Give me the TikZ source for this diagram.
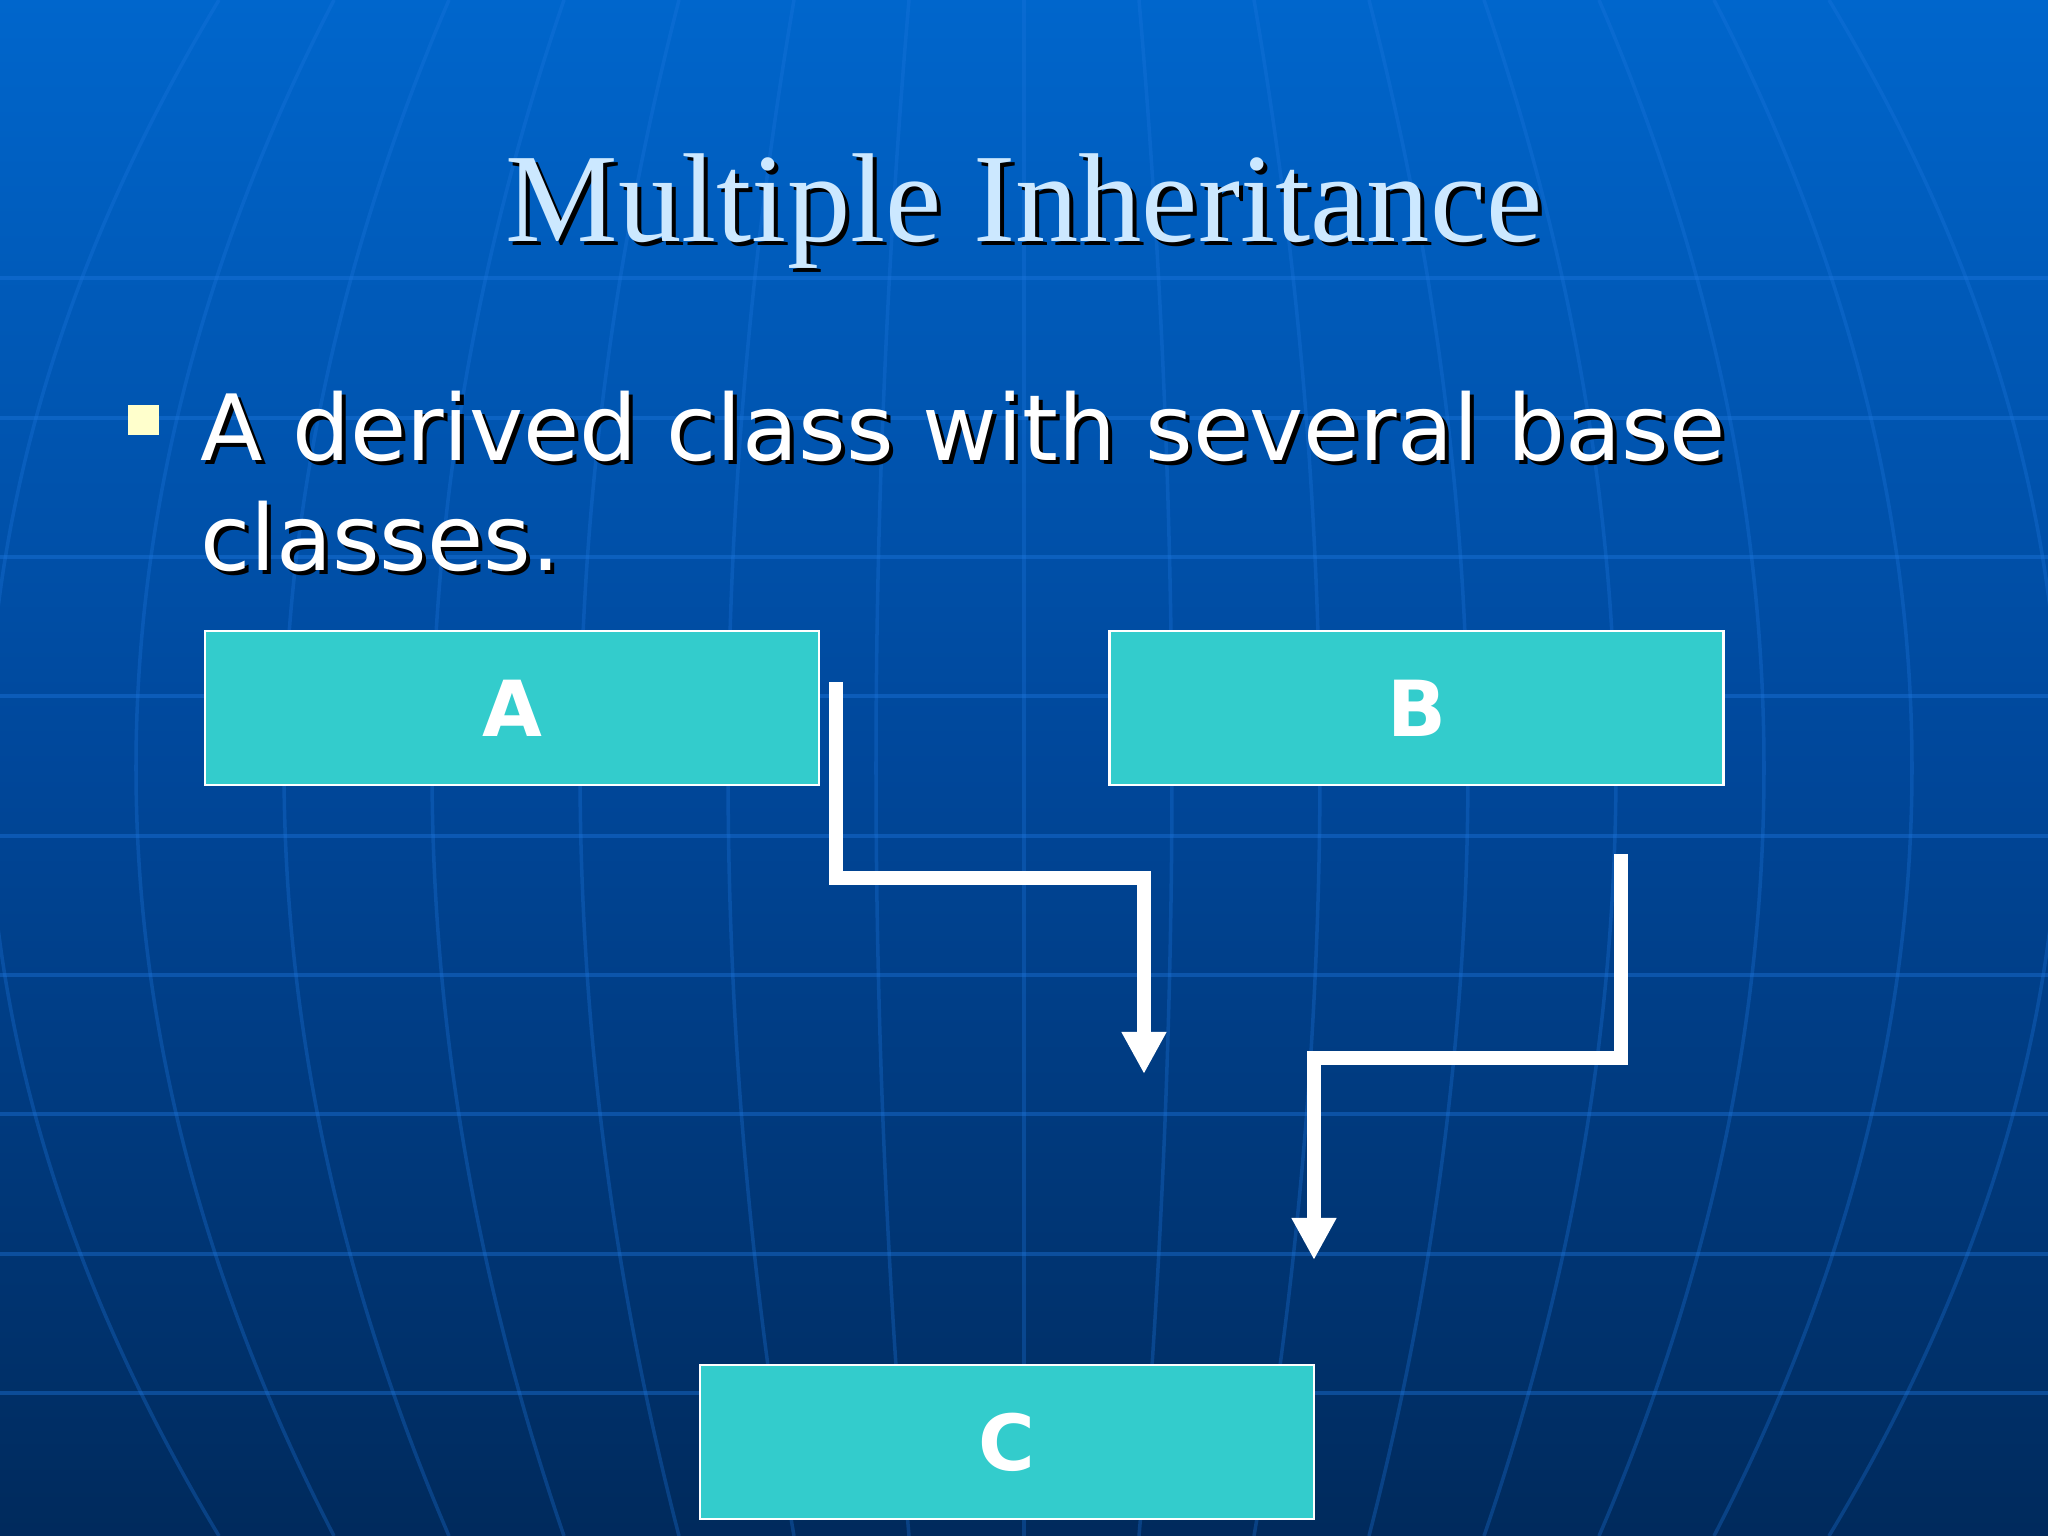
\documentclass[tikz,border=0pt]{standalone}
\usepackage{fontspec}
\setmainfont{Liberation Serif}
\setsansfont{DejaVu Sans}
\usetikzlibrary{arrows.meta}
\definecolor{bgtop}{HTML}{0066CC}
\definecolor{bgmid}{HTML}{00479A}
\definecolor{bgbot}{HTML}{002A5C}
\definecolor{gridblue}{HTML}{1F78E0}
\definecolor{boxfill}{HTML}{33CCCC}
\definecolor{titleblue}{HTML}{CCE8FF}
\definecolor{bulletyel}{HTML}{FFFFCC}
\begin{document}
\begin{tikzpicture}[
  classbox/.style={draw=white, line width=0.8pt, fill=boxfill, minimum width=6.14cm,
    minimum height=1.54cm, inner sep=0pt, text=white,
    font=\sffamily\bfseries\fontsize{22}{26}\selectfont},
  inherit/.style={draw=white, line width=0.14cm, line join=miter,
    -{Triangle[width=0.42cm,length=0.42cm]}},
  gridline/.style={gridblue, line width=1.2pt, opacity=0.4},
  meridian/.style={gridblue, line width=1pt, opacity=0.3},
  titlefont/.style={font=\fontsize{36}{40}\selectfont, anchor=base, inner sep=0pt},
  bulletfont/.style={font=\sffamily\fontsize{26}{31}\selectfont, anchor=base west, inner sep=0pt}
]
\useasboundingbox (0,0) rectangle (20.48,15.36);
% background
\shade[top color=bgtop, bottom color=bgbot, middle color=bgmid] (0,0) rectangle (20.48,15.36);
\foreach \y in {12.58,11.18,9.79,8.40,7.00,5.61,4.22,2.82,1.43}
  \draw[gridline] (0,\y) -- (20.48,\y);
\foreach \i in {-7,...,7}
  \draw[meridian] ({10.24+\i*1.15},15.36) .. controls ({10.24+\i*1.59},10.24) and ({10.24+\i*1.59},5.12) .. ({10.24+\i*1.15},0);

% title and bullet
\node[titlefont, text=black] (title-shadow) at (10.28,12.90) {Multiple Inheritance};
\node[titlefont, text=titleblue] (title) at (10.24,12.94) {Multiple Inheritance};
\fill[bulletyel] (1.28,11.01) rectangle (1.59,11.31);
\node[bulletfont, text=black] (line1-shadow) at (2.04,10.71) {A derived class with several base};
\node[bulletfont, text=white] (line1) at (2.00,10.75) {A derived class with several base};
\node[bulletfont, text=black] (line2-shadow) at (2.04,9.61) {classes.};
\node[bulletfont, text=white] (line2) at (2.00,9.65) {classes.};

% classes
\node[classbox] (A) at (5.12,8.28) {A};
\node[classbox] (B) at (14.165,8.28) {B};
\node[classbox] (C) at (10.07,0.94) {C};

% inheritance arrows
\coordinate (a-out) at (8.36,8.54);
\coordinate (a-bend) at (11.44,6.58);
\coordinate (a-in) at (11.44,4.62);
\coordinate (b-out) at (16.21,6.82);
\coordinate (b-bend) at (13.14,4.78);
\coordinate (b-in) at (13.14,2.76);
\draw[inherit] (a-out) |- (a-bend) -- (a-in);
\draw[inherit] (b-out) |- (b-bend) -- (b-in);
\end{tikzpicture}
\end{document}
